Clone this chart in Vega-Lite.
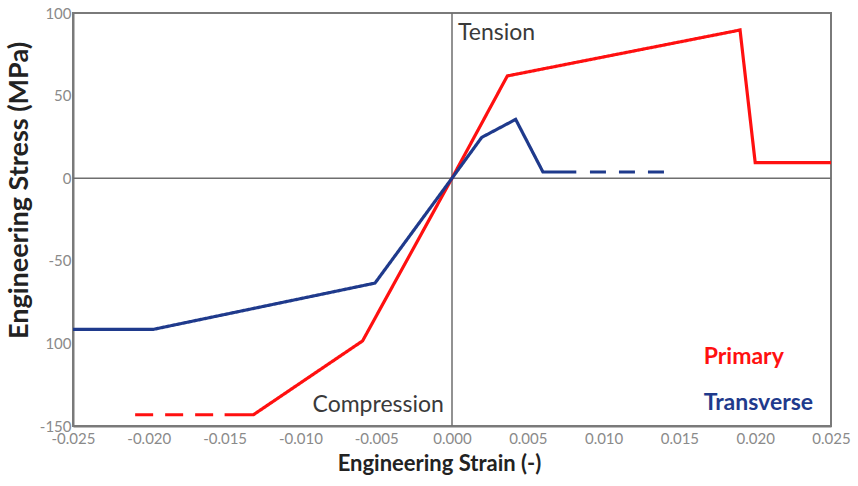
{
  "$schema": "https://vega.github.io/schema/vega-lite/v6.json",
  "width": 758,
  "height": 413,
  "autosize": {"type": "none"},
  "padding": {"left": 73, "top": 13, "right": 27, "bottom": 60},
  "background": "white",
  "config": {
    "view": {"stroke": "#7a7a7a", "strokeWidth": 2},
    "font": "Lato"
  },
  "datasets": {
    "curves": [
      {"seg": "P-dash", "series": "Primary", "strain": -0.0209, "stress": -143.2},
      {"seg": "P-dash", "series": "Primary", "strain": -0.0150, "stress": -143.2},
      {"seg": "P-solid", "series": "Primary", "strain": -0.0150, "stress": -143.2},
      {"seg": "P-solid", "series": "Primary", "strain": -0.0131, "stress": -143.2},
      {"seg": "P-solid", "series": "Primary", "strain": -0.0059, "stress": -98.5},
      {"seg": "P-solid", "series": "Primary", "strain": 0.0, "stress": 0.0},
      {"seg": "P-solid", "series": "Primary", "strain": 0.00365, "stress": 61.9},
      {"seg": "P-solid", "series": "Primary", "strain": 0.0190, "stress": 89.7},
      {"seg": "P-solid", "series": "Primary", "strain": 0.0200, "stress": 9.4},
      {"seg": "P-solid", "series": "Primary", "strain": 0.0250, "stress": 9.4},
      {"seg": "T-solid", "series": "Transverse", "strain": -0.0250, "stress": -91.5},
      {"seg": "T-solid", "series": "Transverse", "strain": -0.0197, "stress": -91.5},
      {"seg": "T-solid", "series": "Transverse", "strain": -0.00508, "stress": -63.5},
      {"seg": "T-solid", "series": "Transverse", "strain": 0.0, "stress": 0.0},
      {"seg": "T-solid", "series": "Transverse", "strain": 0.00196, "stress": 24.7},
      {"seg": "T-solid", "series": "Transverse", "strain": 0.0042, "stress": 35.6},
      {"seg": "T-solid", "series": "Transverse", "strain": 0.0060, "stress": 3.75},
      {"seg": "T-solid", "series": "Transverse", "strain": 0.0082, "stress": 3.75},
      {"seg": "T-dash", "series": "Transverse", "strain": 0.0091, "stress": 3.75},
      {"seg": "T-dash", "series": "Transverse", "strain": 0.0141, "stress": 3.75}
    ],
    "zero": [{"v": 0}],
    "notes": [
      {"text": "Tension", "strain": 0.0004, "stress": 87.7, "kind": "plain"},
      {"text": "Compression", "strain": -0.0092, "stress": -137.3, "kind": "plain"},
      {"text": "Primary", "strain": 0.0166, "stress": -108.3, "kind": "Primary"},
      {"text": "Transverse", "strain": 0.0166, "stress": -136.1, "kind": "Transverse"}
    ]
  },
  "layer": [
    {
      "data": {"name": "zero"},
      "mark": {"type": "rule", "color": "#6e6e6e", "strokeWidth": 1.5},
      "encoding": {"x": {"field": "v", "type": "quantitative", "scale": {"domain": [-0.025, 0.025]}}}
    },
    {
      "data": {"name": "zero"},
      "mark": {"type": "rule", "color": "#6e6e6e", "strokeWidth": 1.5},
      "encoding": {"y": {"field": "v", "type": "quantitative", "scale": {"domain": [-150, 100]}}}
    },
    {
      "data": {"name": "curves"},
      "mark": {"type": "line", "strokeWidth": 3.2, "strokeJoin": "miter"},
      "encoding": {
        "x": {
          "field": "strain", "type": "quantitative",
          "scale": {"domain": [-0.025, 0.025], "nice": false, "zero": false},
          "axis": {
            "title": "Engineering Strain (-)",
            "values": [-0.025, -0.02, -0.015, -0.01, -0.005, 0, 0.005, 0.01, 0.015, 0.02, 0.025],
            "format": ".3f",
            "labelExpr": "replace(datum.label, '\u2212', '-')",
            "grid": false,
            "ticks": false,
            "domainColor": "#7a7a7a",
            "domainWidth": 2,
            "labelColor": "#8a8a8a",
            "labelFontSize": 15,
            "labelPadding": 5,
            "labelFont": "Lato",
            "labelFlush": false,
            "titleFont": "Lato",
            "titleFontSize": 22,
            "titleFontWeight": "bold",
            "titleColor": "#222222",
            "titleX": 366,
            "titleY": 27
          }
        },
        "y": {
          "field": "stress", "type": "quantitative",
          "scale": {"domain": [-150, 100], "nice": false, "zero": false},
          "axis": {
            "title": "Engineering Stress (MPa)",
            "values": [-150, -100, -50, 0, 50, 100],
            "labelExpr": "datum.value == -100 ? '100' : replace(datum.label, '\u2212', '-')",
            "grid": false,
            "ticks": false,
            "domainColor": "#7a7a7a",
            "domainWidth": 2,
            "labelColor": "#8a8a8a",
            "labelFontSize": 15,
            "labelPadding": 2,
            "labelFont": "Lato",
            "labelFlush": false,
            "titleFont": "Lato",
            "titleFontSize": 27,
            "titleFontWeight": "bold",
            "titleColor": "#222222",
            "titleX": -40,
            "titleY": 177
          }
        },
        "detail": {"field": "seg"},
        "color": {
          "field": "series", "type": "nominal",
          "scale": {"domain": ["Primary", "Transverse"], "range": ["#ff1010", "#1f3a8c"]},
          "legend": null
        },
        "strokeDash": {
          "field": "seg", "type": "nominal",
          "scale": {"domain": ["P-solid", "P-dash", "T-solid", "T-dash"], "range": [[1, 0], [18, 12], [1, 0], [16, 13]]},
          "legend": null
        }
      }
    },
    {
      "data": {"name": "notes"},
      "transform": [{"filter": "datum.kind == 'plain'"}],
      "mark": {"type": "text", "align": "left", "baseline": "middle", "fontSize": 23, "font": "Lato", "color": "#3a3a3a"},
      "encoding": {
        "x": {"field": "strain", "type": "quantitative"},
        "y": {"field": "stress", "type": "quantitative"},
        "text": {"field": "text"}
      }
    },
    {
      "data": {"name": "notes"},
      "transform": [{"filter": "datum.kind != 'plain'"}],
      "mark": {"type": "text", "align": "left", "baseline": "middle", "fontSize": 23, "font": "Lato", "fontWeight": "bold"},
      "encoding": {
        "x": {"field": "strain", "type": "quantitative"},
        "y": {"field": "stress", "type": "quantitative"},
        "text": {"field": "text"},
        "color": {
          "field": "kind", "type": "nominal",
          "scale": {"domain": ["Primary", "Transverse"], "range": ["#ff1010", "#2c3f7c"]},
          "legend": null
        }
      }
    }
  ]
}
